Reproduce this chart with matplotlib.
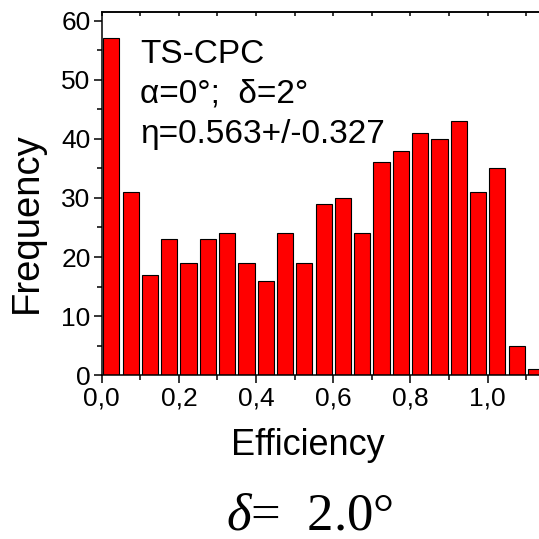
import matplotlib
matplotlib.use("Agg")
import matplotlib.pyplot as plt
from matplotlib.ticker import MultipleLocator, FuncFormatter
import numpy as np

# histogram of efficiency, bins of 0.05 starting at 0
bin_width = 0.05
counts = [57, 31, 17, 23, 19, 23, 24, 19, 16, 24, 19, 29,
          30, 24, 36, 38, 41, 40, 43, 31, 35, 5, 1]
bin_centers = np.arange(len(counts)) * bin_width + bin_width / 2

label_lines = ["TS-CPC", "α=0°;  δ=2°", "η=0.563+/-0.327"]
caption = r"$\delta$=  2.0°"

plt.rcParams['font.family'] = ['Liberation Sans', 'DejaVu Sans']
plt.rcParams['mathtext.fontset'] = 'custom'
plt.rcParams['mathtext.it'] = 'Liberation Serif:italic'
plt.rcParams['mathtext.rm'] = 'Liberation Serif'

fig = plt.figure(figsize=(5.39, 5.39), dpi=100)
ax = fig.add_axes([0.1887, 0.304, 0.8113, 0.674])

ax.bar(bin_centers, counts, width=0.042, color='#ff0000',
       edgecolor='black', linewidth=0.8)

ax.set_xlim(0, 1.133)
ax.set_ylim(0, 61.5)

ax.xaxis.set_major_locator(MultipleLocator(0.2))
ax.xaxis.set_minor_locator(MultipleLocator(0.1))
ax.yaxis.set_major_locator(MultipleLocator(10))
ax.yaxis.set_minor_locator(MultipleLocator(5))
ax.xaxis.set_major_formatter(FuncFormatter(lambda v, p: ('%.1f' % v).replace('.', ',')))

ax.tick_params(which='major', direction='out', length=6, width=1.1, labelsize=19, pad=2)
ax.tick_params(which='minor', direction='out', length=3.5, width=1.1)
ax.spines['right'].set_visible(False)
for s in ['left', 'bottom', 'top']:
    ax.spines[s].set_linewidth(1.1)

top = ax.secondary_xaxis('top')
top.xaxis.set_major_locator(MultipleLocator(0.2))
top.xaxis.set_minor_locator(MultipleLocator(0.1))
top.tick_params(which='both', direction='in', length=3, width=1.1, labeltop=False)
top.spines['top'].set_linewidth(1.1)

ax.set_xlabel("Efficiency", fontsize=26)
ax.set_ylabel("Frequency", fontsize=27.5)
ax.xaxis.set_label_coords(0.472, -0.145)
ax.yaxis.set_label_coords(-0.13, 0.42)

for txt, yb in zip(label_lines, [52.9, 46.1, 39.3]):
    ax.text(0.099, yb, txt, fontsize=24, va='baseline', ha='left')

fig.text(310 / 539, 1 - 529 / 539, caption, fontsize=38, ha='center', va='baseline',
         family='Liberation Serif')

fig.savefig("out.png", dpi=100)
